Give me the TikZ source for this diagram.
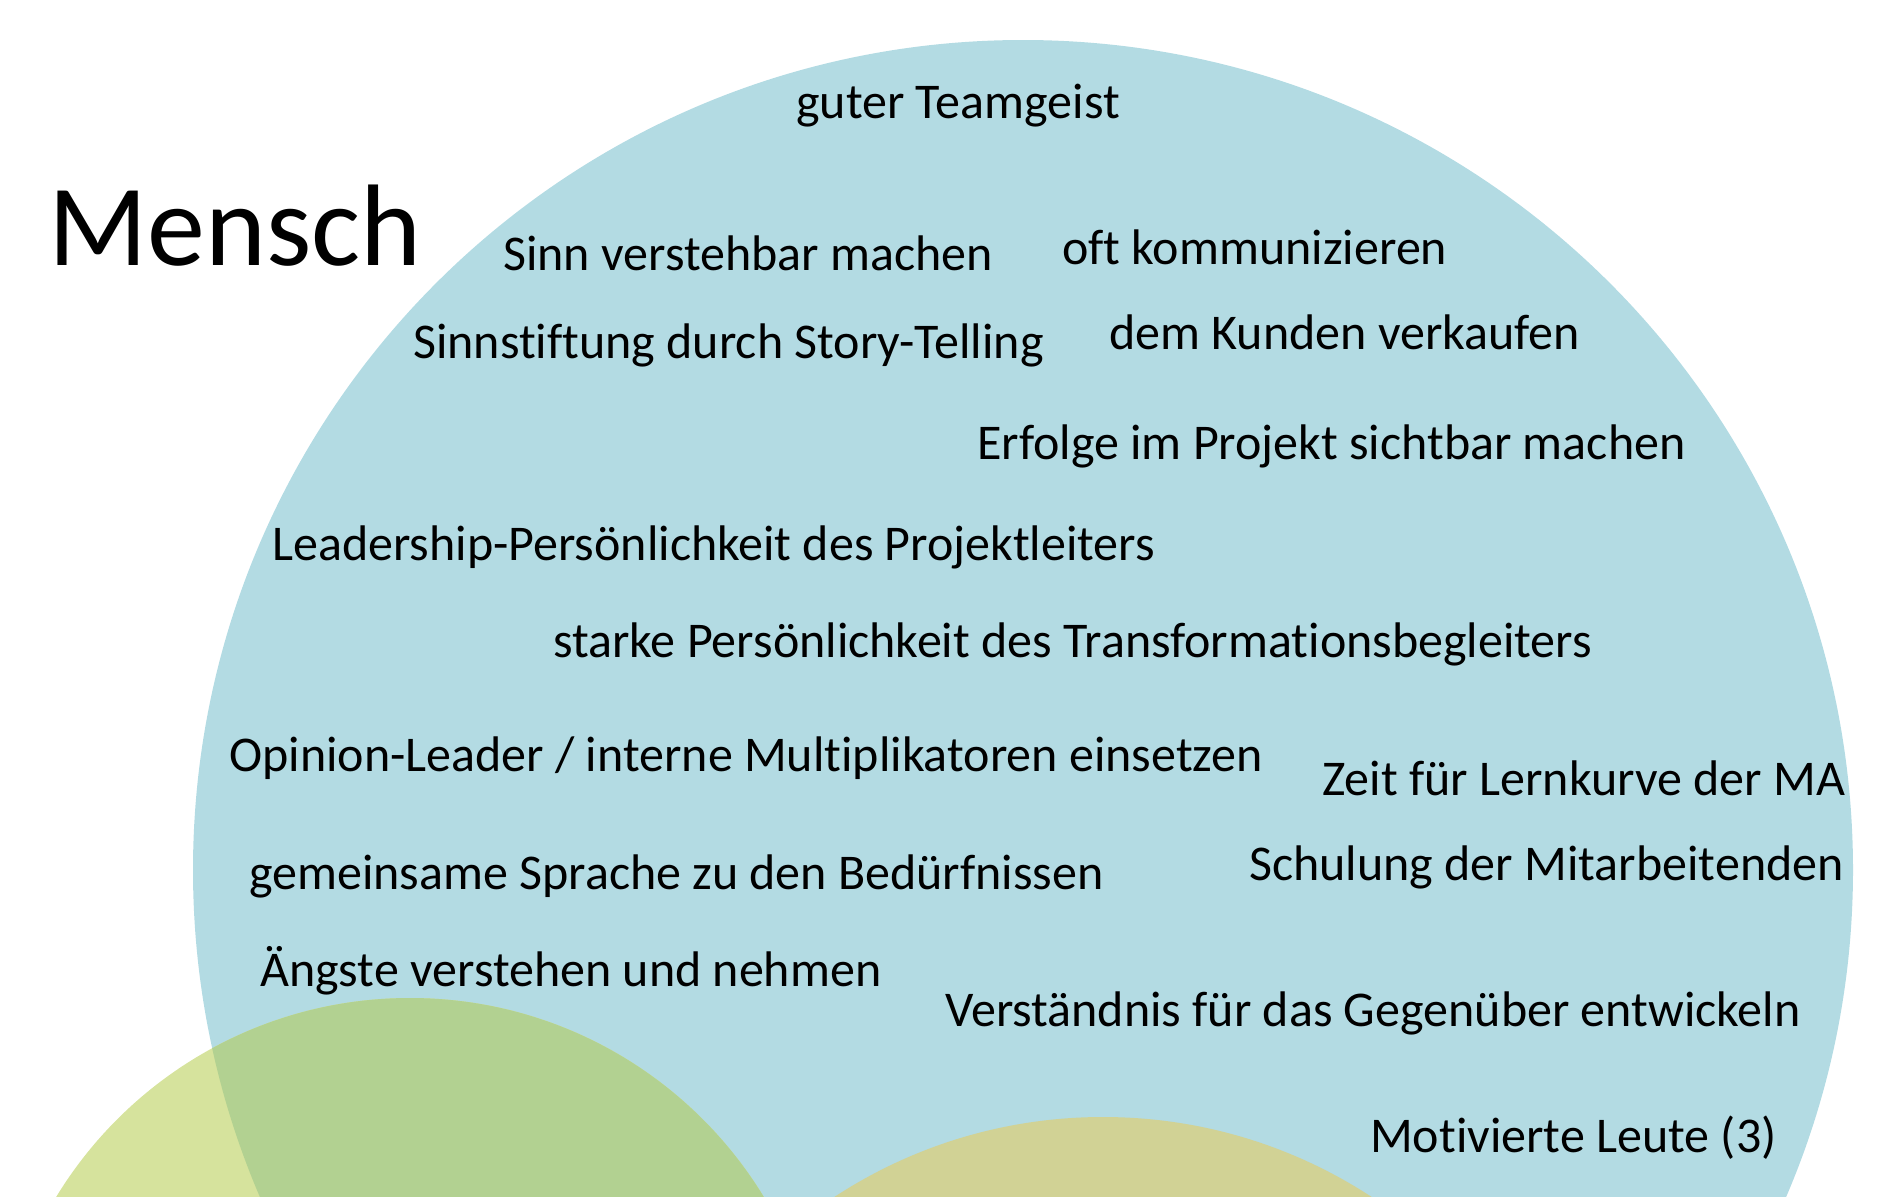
\documentclass[tikz,border=0pt]{standalone}
\usepackage{fontspec}
\setmainfont{Carlito}[Ligatures={NoCommon}]
\definecolor{cblue}{HTML}{B3DBE3}
\definecolor{cgreenout}{HTML}{D6E39D}
\definecolor{cgreenin}{HTML}{B2D191}
\definecolor{colive}{HTML}{D1D295}
\begin{document}
\begin{tikzpicture}[x=1bp,y=-1bp,
  lbl/.style={anchor=base west,inner sep=0pt,font=\fontsize{50bp}{60bp}\selectfont},
  title/.style={anchor=base west,inner sep=0pt,font=\fontsize{116bp}{132bp}\selectfont}]
\useasboundingbox (0,0) rectangle (1889,1196);
\clip (0,0) rectangle (1889,1196);
% circles
\fill[cblue] (1023,870) circle[radius=830];
\fill[cgreenout] (410,1412) circle[radius=414];
\begin{scope}
  \clip (1023,870) circle[radius=830];
  \fill[cgreenin] (410,1412) circle[radius=414];
\end{scope}
\fill[colive] (1103,1608) circle[radius=491];
% texts
\node[title] (mensch) at (48,265) {Mensch};
\node[lbl] (t1) at (796,118) {guter Teamgeist};
\node[lbl] (t2) at (503,270) {Sinn verstehbar machen};
\node[lbl] (t3) at (1062,264) {oft kommunizieren};
\node[lbl] (t4) at (413,358) {Sinnstiftung durch Story-Telling};
\node[lbl] (t5) at (1109,349) {dem Kunden verkaufen};
\node[lbl] (t6) at (977,459) {Erfolge im Projekt sichtbar machen};
\node[lbl] (t7) at (272,560) {Leadership-Persönlichkeit des Projektleiters};
\node[lbl] (t8) at (553,657) {starke Persönlichkeit des Transformationsbegleiters};
\node[lbl] (t9) at (229,771) {Opinion-Leader / interne Multiplikatoren einsetzen};
\node[lbl] (t10) at (1322,795) {Zeit für Lernkurve der MA};
\node[lbl] (t11) at (1249,880) {Schulung der Mitarbeitenden};
\node[lbl] (t12) at (249,889) {gemeinsame Sprache zu den Bedürfnissen};
\node[lbl] (t13) at (260,986) {Ängste verstehen und nehmen};
\node[lbl] (t14) at (945,1026) {Verständnis für das Gegenüber entwickeln};
\node[lbl] (t15) at (1370,1152) {Motivierte Leute (3)};
\end{tikzpicture}
\end{document}
